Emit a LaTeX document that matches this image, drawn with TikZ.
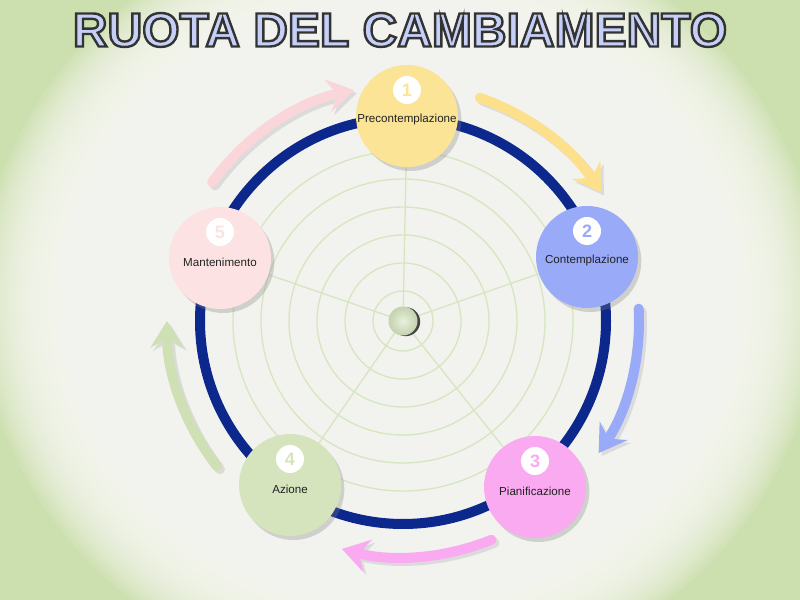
\documentclass[tikz,border=0pt]{standalone}
\usepackage{fontspec}
\setsansfont{Liberation Sans}
\newfontfamily\headingfont[FakeBold=5]{Liberation Sans Bold}
\usepackage{tikz}
\usetikzlibrary{arrows.meta}
\usetikzlibrary{shadows}
\usetikzlibrary{backgrounds}

\definecolor{ringblue}{RGB}{12,40,140}
\definecolor{webgreen}{RGB}{214,230,192}
\definecolor{hubgreen}{RGB}{212,228,190}
\definecolor{labelgray}{RGB}{34,34,34}
\definecolor{headingfill}{RGB}{198,208,247}
\definecolor{glowin}{RGB}{251,252,247}
\definecolor{glowout}{RGB}{204,223,174}
\definecolor{stageyellow}{RGB}{252,228,150}
\definecolor{stageblue}{RGB}{152,170,248}
\definecolor{stagepink}{RGB}{250,170,240}
\definecolor{stagegreen}{RGB}{214,228,190}
\definecolor{stagerose}{RGB}{252,226,226}
\definecolor{arrowrose}{RGB}{250,214,218}
\definecolor{arrowgreen}{RGB}{206,224,180}
\definecolor{arrowyellow}{RGB}{252,224,140}

\newcommand{\wheelstage}[5]{%
  \node[stagedisc, fill=#3] (#1) at (#2) {};
  \node[stagebadge, text=#3] (#1-num) at ([yshift=19.5pt]#1.center) {#4};
  \node[stagetext] (#1-lbl) at ([yshift=-3pt]#1.center) {#5};
}
\newcommand{\cyclearrow}[3]{%
  \draw[cyclearc, draw=black!14, transform canvas={shift={(3,-3)}}]
    ([shift={(#2:236)}]hub) arc[start angle=#2, end angle=#3, radius=236];
  \draw[cyclearc, draw=#1]
    ([shift={(#2:236)}]hub) arc[start angle=#2, end angle=#3, radius=236];
}

\begin{document}
\begin{tikzpicture}[x=0.75pt, y=0.75pt,
    stagedisc/.style={circle, minimum size=76.5pt, inner sep=0pt,
      drop shadow={shadow xshift=2.5pt, shadow yshift=-3pt, opacity=0.3}},
    stagebadge/.style={circle, fill=white, minimum size=21pt, inner sep=0pt,
      font=\sffamily\bfseries\fontsize{13.5}{14}\selectfont},
    stagetext/.style={font=\sffamily\fontsize{8.7}{10}\selectfont, text=labelgray},
    webline/.style={draw=webgreen, line width=1pt},
    ringline/.style={draw=ringblue, line width=7.5pt},
    hubdisc/.style={circle, minimum size=21.75pt, inner sep=0pt,
      inner color=white!45!hubgreen, outer color=hubgreen!92!black,
      drop shadow={shadow xshift=2pt, shadow yshift=-0.5pt, fill=black!80, opacity=0.9}},
    cyclearc/.style={line width=7.5pt, line cap=round,
      -{Stealth[length=20pt, width=25pt, inset=7pt]}},
    heading/.style={font=\headingfont\fontsize{36}{40}\selectfont,
      text=headingfill, inner sep=0pt}
  ]
  \useasboundingbox (0,0) rectangle (800,600);
  \coordinate (hub) at (403,279);

  % title
  \node[heading] (title) at (400,570) {\special{pdf:literal 0.2 0.2 0.2 RG}RUOTA DEL CAMBIAMENTO};

  % the five stages
  \wheelstage{n1}{407,484}{stageyellow}{1}{Precontemplazione}
  \wheelstage{n2}{587,343}{stageblue}{2}{Contemplazione}
  \wheelstage{n3}{535,113}{stagepink}{3}{Pianificazione}
  \wheelstage{n4}{290,115}{stagegreen}{4}{Azione}
  \wheelstage{n5}{220,342}{stagerose}{5}{Mantenimento}

  \node[hubdisc] (ball) at (hub) {};

  % arrows from stage to stage
  \cyclearrow{arrowyellow}{71}{33}
  \cyclearrow{stageblue}{3}{-34}
  \cyclearrow{stagepink}{-68}{-105}
  \cyclearrow{arrowgreen}{-142}{-180}
  \cyclearrow{arrowrose}{144}{102}

  \begin{scope}[on background layer]
    % green glow at the edges
    \fill[glowout] (0,0) rectangle (800,600);
    \foreach \k in {0,...,32}
      \fill[glowin, opacity=0.11] (400,300) ellipse[x radius=420-4*\k, y radius=390-4*\k];
    \foreach \r in {30,58,...,170}
      \draw[webline] (hub) circle[radius=\r];
    \foreach \n in {n1,n2,n3,n4,n5}
      \draw[webline] (hub) -- (\n);
    \draw[ringline] (hub) circle[radius=203];
  \end{scope}
\end{tikzpicture}
\end{document}
